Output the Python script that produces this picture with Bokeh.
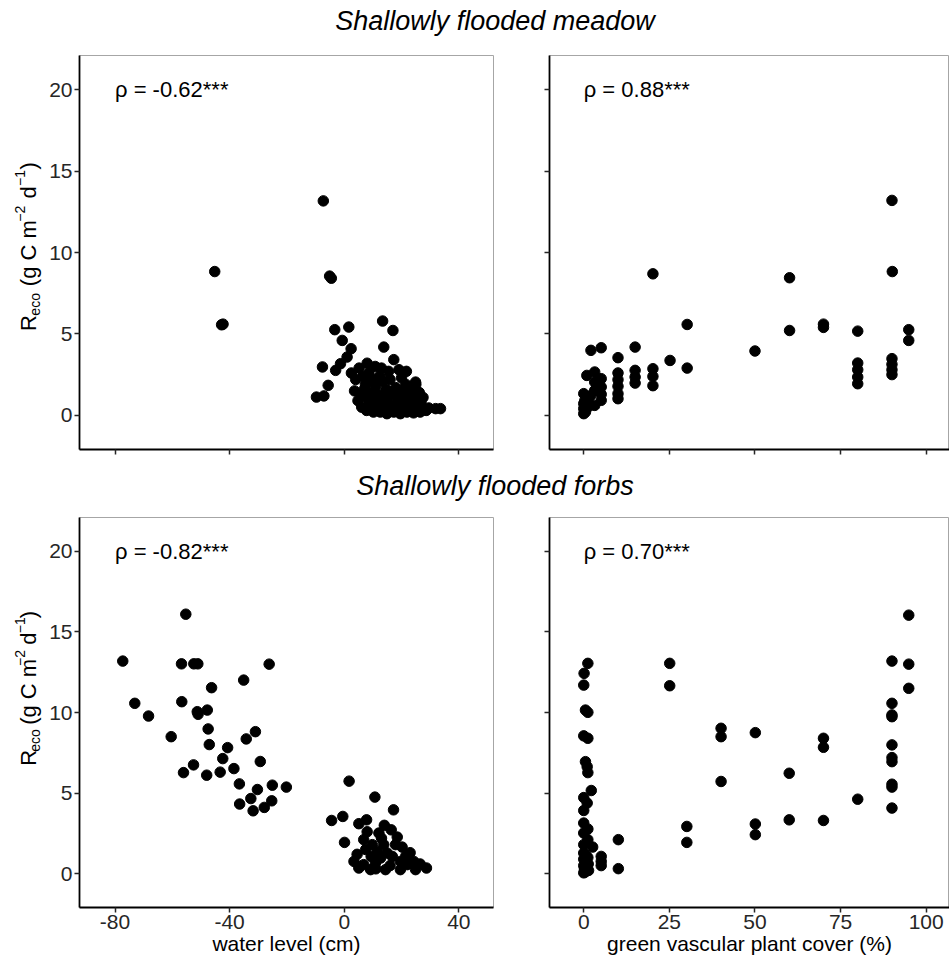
import math
from bokeh.plotting import figure
from bokeh.layouts import row, column
from bokeh.models import Range1d, FixedTicker
from bokeh.core.properties import value
from bokeh.embed import file_html
from bokeh.resources import INLINE

FONT = "Liberation Sans"

# ---------------- data ----------------
titles = ["Shallowly flooded meadow", "Shallowly flooded forbs"]
x_label_water = "water level (cm)"
x_label_cover = "green vascular plant cover (%)"
rho_labels = ["\u03c1 = -0.62***", "\u03c1 = 0.88***", "\u03c1 = -0.82***", "\u03c1 = 0.70***"]
water_ticks = [-80, -40, 0, 40]
water_tick_labels = ["-80", "-40", "0", "40"]
cover_ticks = [0, 25, 50, 75, 100]
reco_ticks = [0, 5, 10, 15, 20]

meadow_water = [
    (-45.2, 8.83), (-42.8, 5.56), (-42.3, 5.6), (-7.3, 13.17), (-5.1, 8.55), (-4.5, 8.42),
    (-3.3, 5.26), (1.6, 5.42), (-0.7, 4.6), (2.4, 4.09), (13.4, 5.79), (17.0, 5.21),
    (13.8, 4.19), (17.3, 3.42), (-7.6, 2.97), (1.0, 3.58), (-1.3, 3.17), (-3.0, 2.76),
    (19.1, 2.80), (21.7, 2.70), (-5.6, 1.84), (-9.7, 1.12), (-7.1, 1.19), (24.9, 2.04),
    (22.5, 1.74), (31.9, 0.41), (33.6, 0.41),
    (2.5, 2.6), (4.0, 2.2), (5.2, 2.9), (6.5, 2.4), (7.4, 1.9), (8.6, 2.6), (9.8, 2.2),
    (11.0, 1.8), (12.3, 2.4), (13.5, 2.1), (14.6, 1.6), (16.0, 2.2), (3.6, 1.5), (5.9, 1.2),
    (7.0, 1.6), (8.2, 1.0), (9.3, 1.4), (10.5, 0.9), (11.7, 1.3), (12.8, 0.7), (13.9, 1.1),
    (15.2, 0.8), (16.4, 1.3), (17.6, 0.6), (18.7, 1.0), (19.8, 1.5), (20.9, 0.9), (22.1, 1.2),
    (23.3, 0.6), (24.4, 1.0), (25.6, 0.5), (26.8, 0.8), (27.9, 0.4), (6.1, 0.5), (7.8, 0.3),
    (9.0, 0.6), (10.2, 0.2), (11.5, 0.5), (12.6, 0.2), (13.7, 0.4), (14.9, 0.1), (16.1, 0.5),
    (17.3, 0.2), (18.4, 0.4), (19.6, 0.1), (20.7, 0.5), (21.9, 0.2), (23.0, 0.3), (24.2, 0.15),
    (25.3, 0.3), (26.5, 0.2), (28.6, 0.3), (29.5, 0.45), (4.8, 0.9), (18.0, 1.7), (20.0, 2.3),
    (21.5, 1.9), (23.8, 1.5), (25.0, 1.9), (26.2, 1.4), (27.5, 1.1), (10.8, 3.0), (13.0, 2.9),
    (15.5, 2.7), (8.0, 3.2),
]

meadow_cover = [
    (20.2, 8.69), (60.1, 8.45), (90.1, 8.83), (90, 13.2), (30.2, 5.58), (60.1, 5.21),
    (70.0, 5.4), (70.0, 5.6), (80.0, 5.17), (94.9, 5.26), (94.9, 4.6), (50.0, 3.95),
    (80, 3.21), (80, 2.80), (80, 2.35), (80, 1.94), (90, 3.48), (90, 3.13), (90, 2.80),
    (90, 2.50), (25.2, 3.37), (30.2, 2.90), (15.0, 4.19), (20.2, 2.86), (20.2, 2.39),
    (20.2, 1.82), (15, 2.76), (15, 2.35), (15, 1.98), (10.0, 3.54), (10, 2.60), (10, 2.19),
    (10, 1.78), (10, 1.33), (10, 1.02), (2.1, 3.99), (5.1, 4.15), (0.9, 2.45), (3.2, 2.66),
    (5.1, 2.25), (5.1, 1.74), (5.1, 1.29), (5.1, 0.92), (3.2, 2.04), (3.2, 1.53), (3.2, 0.61),
    (0, 1.33), (0, 0.72), (0, 0.41), (0, 0.10), (1, 0.92), (1.5, 0.55), (0.5, 0.2), (0.3, 0.9),
    (2, 1.2),
]

forbs_water = [
    (-55.3, 16.1), (-77.3, 13.19), (-56.8, 13.02), (-52.5, 13.02), (-51.1, 13.02), (-26.2, 13.0),
    (-35.1, 12.01), (-46.3, 11.54), (-73.1, 10.57), (-56.7, 10.67), (-68.3, 9.78), (-51.3, 10.05),
    (-51.0, 9.89), (-47.8, 10.15), (-60.4, 8.50), (-47.5, 8.98), (-47.1, 8.01), (-34.2, 8.36),
    (-31.0, 8.81), (-40.7, 7.82), (-42.4, 7.14), (-29.3, 6.96), (-52.6, 6.75), (-56.1, 6.27),
    (-48.0, 6.11), (-43.3, 6.30), (-38.5, 6.52), (-36.6, 5.57), (-30.3, 5.22), (-25.1, 5.49),
    (-20.2, 5.37), (-32.6, 4.66), (-36.5, 4.32), (-25.3, 4.52), (-31.8, 3.90), (-27.9, 4.11),
    (1.7, 5.74), (10.7, 4.75), (17.2, 3.96), (-4.4, 3.30), (-0.5, 3.55), (0.1, 1.94), (5.1, 3.10),
    (7.8, 3.34), (6.8, 2.11), (12.1, 2.52), (16.4, 2.72), (18.5, 2.27), (20.2, 1.65), (13.8, 1.80),
    (9.8, 1.80), (3.4, 0.76), (5.1, 0.35), (9.4, 1.07), (9.2, 0.25), (14.4, 0.25), (12.7, 0.97),
    (16.8, 1.07), (19.6, 0.76), (19.6, 0.25), (24.3, 0.76), (24.9, 0.25), (28.7, 0.35), (22.0, 0.56),
    (10.9, 0.66), (6.8, 0.56), (17.9, 1.80), (15.0, 1.28), (11.5, 1.38), (8.0, 2.6), (14.0, 3.0),
    (11.0, 0.3), (21.5, 1.1), (7.5, 1.5), (4.5, 1.2), (26.5, 0.6), (23.0, 1.3), (13.0, 2.2),
    (16.0, 0.5),
]

forbs_cover = [
    (1.2, 13.05), (0.1, 12.43), (0, 11.70), (0.5, 10.15), (1.2, 10.01), (0, 8.55), (1.2, 8.40),
    (0.5, 6.95), (1.0, 6.64), (1.2, 6.27), (2.2, 5.16), (0, 4.72), (1.0, 4.38), (0, 3.92),
    (0, 3.14), (1.2, 2.77), (0, 2.52), (1.2, 2.11), (0, 1.80), (2.6, 1.65), (0, 1.28), (0.6, 1.15),
    (1.2, 1.0), (0, 0.9), (0.5, 0.75), (1.3, 0.6), (0, 0.5), (0.8, 0.4), (0.2, 0.3), (1.4, 0.2),
    (0.4, 0.1), (0, 0.05), (5.1, 1.07), (5.1, 0.76), (5.1, 0.5), (10.1, 2.11), (10.1, 0.31),
    (25.1, 13.05), (25.1, 11.66), (30.1, 2.93), (30.1, 1.94), (40.1, 9.02), (40.1, 8.50),
    (40.1, 5.72), (50.1, 8.75), (50.1, 3.08), (50.1, 2.42), (60, 6.23), (60, 3.34), (70, 8.40),
    (70, 7.84), (70, 3.30), (80, 4.62), (90, 13.19), (90, 10.57), (90, 9.85), (90, 9.74),
    (90, 7.99), (90, 7.20), (90, 6.95), (90, 5.55), (90, 5.37), (90, 4.07), (94.9, 16.04),
    (94.9, 13.0), (94.9, 11.50),
]

# ---------------- styling / layout ----------------
TICK_COLOR = "#262626"
BORDER = "#a6a6a6"
PAGE_W = 949
YLAB_W = 42
FRAME_W_L = 414
WATER_RANGE = (-92.4, 52.1)
COVER_RANGE = (-10.0, 106.8)
RECO_RANGE = (-2.1, 22.1)


def panel(pairs, xr, xticks, xtick_labels, rho, rho_x, bottom, left_labels, width, mbl, mbr,
          height, mbt, mbb, xlabel=None):
    p = figure(width=width, height=height, x_range=Range1d(*xr), y_range=Range1d(*RECO_RANGE),
               output_backend="svg", toolbar_location=None,
               min_border_left=mbl, min_border_right=mbr, min_border_top=mbt, min_border_bottom=mbb)
    p.background_fill_color = "white"
    p.border_fill_color = "white"
    p.outline_line_color = BORDER
    p.outline_line_width = 1
    p.xgrid.visible = False
    p.ygrid.visible = False
    for ax, ticks in ((p.xaxis, xticks), (p.yaxis, reco_ticks)):
        ax.ticker = FixedTicker(ticks=ticks)
        ax.axis_line_color = "black"
        ax.axis_line_width = 1.8
        ax.major_tick_line_color = TICK_COLOR
        ax.major_tick_line_width = 1.5
        ax.major_tick_out = 5
        ax.major_tick_in = 0
        ax.minor_tick_line_color = None
        ax.major_label_text_font = FONT
        ax.major_label_text_font_size = "21px"
        ax.major_label_text_color = TICK_COLOR
        ax.major_label_standoff = 2
    if not bottom:
        p.xaxis.major_label_overrides = {t: "" for t in xticks}
        p.xaxis.major_label_text_font_size = "0px"
        p.xaxis.major_label_standoff = 0
    else:
        p.xaxis.major_label_overrides = {t: s for t, s in zip(xticks, xtick_labels)}
        p.xaxis.axis_label = xlabel
        p.xaxis.axis_label_text_font = FONT
        p.xaxis.axis_label_text_font_size = "21px"
        p.xaxis.axis_label_text_font_style = "normal"
        p.xaxis.axis_label_text_color = "black"
        p.xaxis.axis_label_standoff = 0
    if not left_labels:
        p.yaxis.major_label_overrides = {t: "" for t in reco_ticks}
        p.yaxis.major_label_text_font_size = "0px"
    xs = [a for a, b in pairs]
    ys = [b for a, b in pairs]
    p.scatter(x=xs, y=ys, size=10.5, color="black", line_color="black")
    p.text(x=[rho_x], y=[20.0], text=[rho], text_font=value(FONT), text_font_size=value("22px"),
           text_align="left", text_baseline="alphabetic", text_color="black")
    return p


# Arial / Liberation Sans advance widths (em) for the y label pieces
ADV = {'R': .722, 'e': .556, 'c': .5, 'o': .556, ' ': .278, '(': .333, 'g': .556, 'C': .722,
       'm': .833, '\u2212': .584, '2': .556, 'd': .556, '1': .556, ')': .333}


def ylab_fig(height, center_y):
    w = YLAB_W
    p = figure(width=w, height=height, x_range=Range1d(0, w), y_range=Range1d(0, height),
               x_axis_type=None, y_axis_type=None, output_backend="svg", toolbar_location=None,
               min_border=0)
    p.outline_line_color = None
    p.xgrid.visible = False
    p.ygrid.visible = False
    main_c, sub_c, sup_c = 27.5, 34.0, 19.0
    gap = 0.278 * 22 + 2
    # (text, font px, centre x, gap before)
    pieces = [("R", 22, main_c, 0), ("eco", 14, sub_c, 0), ("(g C m", 22, main_c, gap),
              ("\u22122", 14, sup_c, 1), ("d", 22, main_c, gap), ("\u22121", 14, sup_c, 1),
              (")", 22, main_c, 1)]
    total = sum(sum(ADV[ch] for ch in t) * s + g for t, s, _, g in pieces)
    y = center_y - total / 2
    for t, s, cx, g in pieces:
        y += g
        p.text(x=[cx], y=[y], text=[t], angle=math.pi / 2, text_align="left",
               text_baseline="middle", text_font=value(FONT), text_font_size=value(f"{s}px"),
               text_color="black")
        y += sum(ADV[ch] for ch in t) * s
    return p


def title_fig(height, text, ty):
    w = PAGE_W
    p = figure(width=w, height=height, x_range=Range1d(0, w), y_range=Range1d(0, height),
               x_axis_type=None, y_axis_type=None, output_backend="svg", toolbar_location=None,
               min_border=0)
    p.outline_line_color = None
    p.xgrid.visible = False
    p.ygrid.visible = False
    p.text(x=[494.5], y=[ty], text=[text], text_align="center", text_baseline="middle",
           text_font=value(FONT), text_font_size=value("27px"), text_font_style="italic",
           text_color="black")
    return p


# row heights
T1_H = 53
R1_TOP, R1_FRAME, R1_BOT = 2, 394, 14
R1_H = R1_TOP + R1_FRAME + R1_BOT
T2_H = 54
R2_TOP, R2_FRAME, R2_BOT = 0, 390, 54
R2_H = R2_TOP + R2_FRAME + R2_BOT

t1 = title_fig(T1_H, titles[0], T1_H - 20)
t2 = title_fig(T2_H, titles[1], T2_H - 22)

y1 = ylab_fig(R1_H, R1_H - R1_TOP - R1_FRAME / 2)
y2 = ylab_fig(R2_H, R2_H - R2_TOP - R2_FRAME / 2)

L_MBL, L_MBR = 79 - YLAB_W, 10
L_W = L_MBL + FRAME_W_L + L_MBR
R_MBL = 549 - (YLAB_W + L_W)
R_W = PAGE_W - YLAB_W - L_W

p_tl = panel(meadow_water, WATER_RANGE, water_ticks, water_tick_labels, rho_labels[0], -80, False, True,
             L_W, L_MBL, L_MBR, R1_H, R1_TOP, R1_BOT)
p_tr = panel(meadow_cover, COVER_RANGE, cover_ticks, [str(t) for t in cover_ticks], rho_labels[1], 0,
             False, False, R_W, R_MBL, 0, R1_H, R1_TOP, R1_BOT)
p_bl = panel(forbs_water, WATER_RANGE, water_ticks, water_tick_labels, rho_labels[2], -80, True, True,
             L_W, L_MBL, L_MBR, R2_H, R2_TOP, R2_BOT, xlabel=x_label_water)
p_br = panel(forbs_cover, COVER_RANGE, cover_ticks, [str(t) for t in cover_ticks], rho_labels[3], 0,
             True, False, R_W, R_MBL, 0, R2_H, R2_TOP, R2_BOT, xlabel=x_label_cover)

layout = column(t1, row(y1, p_tl, p_tr), t2, row(y2, p_bl, p_br))

open("out.html", "w").write(file_html(layout, INLINE))
